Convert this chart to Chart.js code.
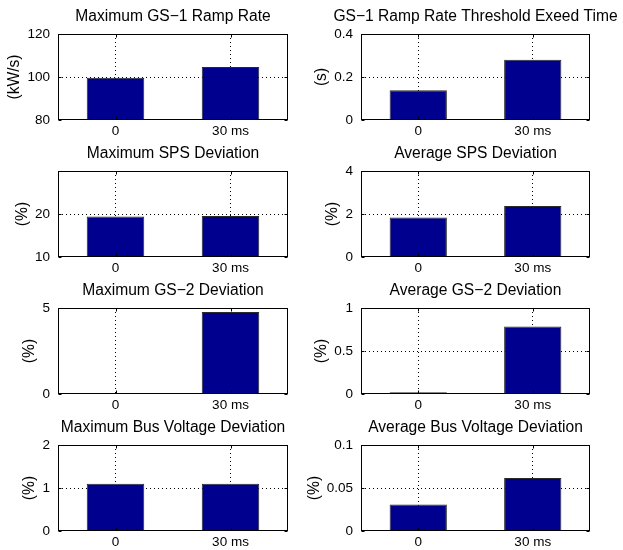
<!DOCTYPE html>
<html>
<head>
<meta charset="utf-8">
<script src="https://cdn.jsdelivr.net/npm/chart.js@4"></script>
<style>
html, body { margin: 0; padding: 0; background: #fff; }
#fig { position: relative; width: 623px; height: 550px; overflow: hidden; background: #fff; }
#fig canvas { position: absolute; }
</style>
</head>
<body>
<div id="fig"></div>
<script>
// ---------- data ----------
const categories = ['0', '30 ms'];

const titles = [
  'Maximum GS\u22121 Ramp Rate',
  'GS\u22121 Ramp Rate Threshold Exeed Time',
  'Maximum SPS Deviation',
  'Average SPS Deviation',
  'Maximum GS\u22122 Deviation',
  'Average GS\u22122 Deviation',
  'Maximum Bus Voltage Deviation',
  'Average Bus Voltage Deviation'
];
const yLabels = ['(kW/s)', '(s)', '(%)', '(%)', '(%)', '(%)', '(%)', '(%)'];

const gs1RampRate   = [99.7, 104.6];
const gs1ExceedTime = [0.138, 0.28];
const maxSpsDev     = [19.4, 19.55];
const avgSpsDev     = [1.835, 2.37];
const maxGs2Dev     = [0.04, 4.77];
const avgGs2Dev     = [0.019, 0.786];
const maxBusDev     = [1.1, 1.1];
const avgBusDev     = [0.0308, 0.0616];

const yLimRamp = [80, 120],  yTicksRamp = [80, 100, 120];
const yLimTime = [0, 0.4],   yTicksTime = [0, 0.2, 0.4];
const yLimMaxSps = [10, 30], yTicksMaxSps = [10, 20];
const yLimAvgSps = [0, 4],   yTicksAvgSps = [0, 2, 4];
const yLimMaxGs2 = [0, 5],   yTicksMaxGs2 = [0, 5];
const yLimAvgGs2 = [0, 1],   yTicksAvgGs2 = [0, 0.5, 1];
const yLimMaxBus = [0, 2],   yTicksMaxBus = [0, 1, 2];
const yLimAvgBus = [0, 0.1], yTicksAvgBus = [0, 0.05, 0.1];

const panelValues = [gs1RampRate, gs1ExceedTime, maxSpsDev, avgSpsDev, maxGs2Dev, avgGs2Dev, maxBusDev, avgBusDev];
const panelLims   = [yLimRamp, yLimTime, yLimMaxSps, yLimAvgSps, yLimMaxGs2, yLimAvgGs2, yLimMaxBus, yLimAvgBus];
const panelTicks  = [yTicksRamp, yTicksTime, yTicksMaxSps, yTicksAvgSps, yTicksMaxGs2, yTicksAvgGs2, yTicksMaxBus, yTicksAvgBus];

// ---------- layout / style ----------
const FONT = "'Liberation Sans', Arial, Helvetica, sans-serif";
const TICK_SIZE = 13.5, TITLE_SIZE = 15.6, YLABEL_SIZE = 15.6;
const BAR_COLOR = '#00008F';
const COL = [
  { canvasLeft: 0,   axisX: 58, plotWidth: 230 },
  { canvasLeft: 295, axisX: 66, plotWidth: 229 }
];
const ROW_TOP = [34, 171, 308, 445];
const TITLE_H = 34, PLOT_H = 86, XAX_H = 22;
const TICK_PAD = 8;

const measureCtx = document.createElement('canvas').getContext('2d');
measureCtx.font = TICK_SIZE + 'px ' + FONT;

const axesBox = {
  id: 'axesBox',
  afterDatasetsDraw(chart) {
    const { ctx, chartArea: a, scales: { x, y } } = chart;
    ctx.save();
    ctx.strokeStyle = '#000';
    ctx.lineWidth = 1;
    ctx.setLineDash([]);
    const L = Math.round(a.left) + 0.5, R = Math.round(a.right) - 0.5;
    const T = Math.round(a.top) + 0.5, B = Math.round(a.bottom) - 0.5;
    ctx.strokeRect(L, T, R - L, B - T);
    const tl = 3;
    ctx.beginPath();
    y.ticks.forEach(t => {
      const py = Math.round(y.getPixelForValue(t.value)) + 0.5;
      ctx.moveTo(L, py); ctx.lineTo(L + tl, py);
      ctx.moveTo(R, py); ctx.lineTo(R - tl, py);
    });
    x.ticks.forEach((t, i) => {
      const px = Math.round(x.getPixelForTick(i)) + 0.5;
      ctx.moveTo(px, B); ctx.lineTo(px, B - tl);
      ctx.moveTo(px, T); ctx.lineTo(px, T + tl);
    });
    ctx.stroke();
    ctx.restore();
  }
};

const fig = document.getElementById('fig');

function makePanel(i) {
  const c = COL[i % 2];
  const rowTop = ROW_TOP[Math.floor(i / 2)];
  const lim = panelLims[i];
  const ticks = panelTicks[i];
  const canvas = document.createElement('canvas');
  const W = 2 * c.axisX + c.plotWidth;
  const H = TITLE_H + PLOT_H + XAX_H;
  canvas.width = W;
  canvas.height = H;
  canvas.style.left = c.canvasLeft + 'px';
  canvas.style.top = (rowTop - TITLE_H) + 'px';
  canvas.style.width = W + 'px';
  canvas.style.height = H + 'px';
  fig.appendChild(canvas);

  const w = Math.max(...ticks.map(v => measureCtx.measureText(String(v)).width));
  const yTitlePad = c.axisX - TICK_PAD - w - 12.5 - YLABEL_SIZE * 1.2 / 2;

  new Chart(canvas, {
    type: 'bar',
    data: {
      labels: categories,
      datasets: [{
        data: panelValues[i],
        backgroundColor: BAR_COLOR,
        borderColor: '#2a2a2a',
        borderWidth: 1,
        barPercentage: 0.5,
        categoryPercentage: 1
      }]
    },
    options: {
      responsive: false,
      animation: false,
      devicePixelRatio: 1,
      layout: { padding: 0 },
      plugins: {
        legend: { display: false },
        tooltip: { enabled: false },
        title: {
          display: true,
          text: titles[i],
          color: '#000',
          font: { size: TITLE_SIZE, family: FONT, weight: 'normal' },
          padding: { top: 7.6, bottom: 7.68 }
        }
      },
      scales: {
        x: {
          type: 'category',
          offset: true,
          afterFit: s => { s.height = XAX_H; },
          ticks: { padding: 3, color: '#000', maxRotation: 0, autoSkip: false,
                   font: { size: TICK_SIZE, family: FONT } },
          grid: { offset: false, drawTicks: false, color: '#000', lineWidth: 1, borderDash: [1, 3] },
          border: { display: false, dash: [1, 3] }
        },
        y: {
          type: 'linear',
          position: 'left',
          min: lim[0],
          max: lim[1],
          afterBuildTicks: s => { s.ticks = ticks.map(v => ({ value: v })); },
          afterFit: s => { s.width = c.axisX; },
          ticks: { padding: TICK_PAD, color: '#000', font: { size: TICK_SIZE, family: FONT },
                   callback: v => String(v) },
          grid: {
            drawTicks: false,
            lineWidth: 1,
            borderDash: [1, 3],
            color: ctx => (ctx.tick && (ctx.tick.value === lim[0] || ctx.tick.value === lim[1])) ? 'rgba(0,0,0,0)' : '#000'
          },
          border: { display: false, dash: [1, 3] },
          title: {
            display: true,
            text: yLabels[i],
            color: '#000',
            font: { size: YLABEL_SIZE, family: FONT },
            padding: { top: yTitlePad, bottom: 0 }
          }
        },
        yRight: {
          type: 'linear',
          axis: 'y',
          position: 'right',
          min: lim[0],
          max: lim[1],
          afterFit: s => { s.width = c.axisX; },
          ticks: { display: false },
          grid: { display: false, drawOnChartArea: false },
          border: { display: false },
          title: { display: false }
        }
      }
    },
    plugins: [axesBox]
  });
}

for (let i = 0; i < 8; i++) makePanel(i);
</script>
</body>
</html>
